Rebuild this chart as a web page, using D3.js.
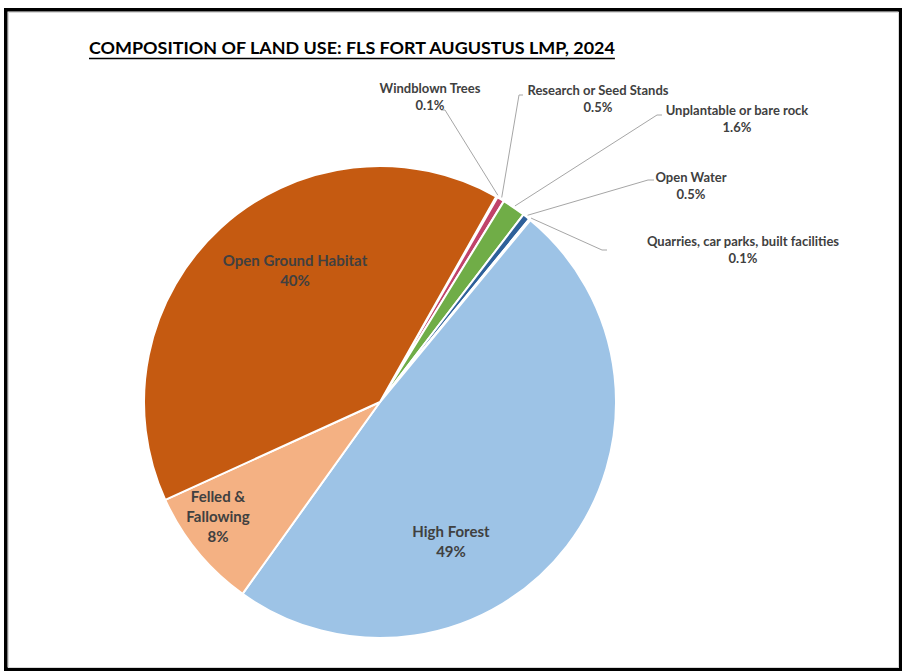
<!DOCTYPE html>
<html>
<head>
<meta charset="utf-8">
<script src="https://cdn.jsdelivr.net/npm/d3@7"></script>
<style>
  html, body { margin: 0; padding: 0; background: #fff; }
  svg { display: block; }
  text { font-family: Lato, "Open Sans", "Liberation Sans", sans-serif; font-weight: bold; }
</style>
</head>
<body>
<svg id="chart" width="903" height="671"></svg>
<script>
// ---- data ----
const categories = [
  "Windblown Trees",
  "Research or Seed Stands",
  "Unplantable or bare rock",
  "Open Water",
  "Quarries, car parks, built facilities",
  "High Forest",
  "Felled & Fallowing",
  "Open Ground Habitat"
];
const values = [0.1, 0.5, 1.6, 0.5, 0.1, 48.9, 8.3, 40.0];
const valueLabels = ["0.1%", "0.5%", "1.6%", "0.5%", "0.1%", "49%", "8%", "40%"];
const colors = ["#C0504D", "#C0436A", "#70AD47", "#2E609A", "#264478", "#9DC3E6", "#F4B183", "#C55A11"];
const titleText = "COMPOSITION OF LAND USE: FLS FORT AUGUSTUS LMP, 2024";

// ---- layout ----
const W = 903, H = 671;
const cx = 380, cy = 402, R = 236;
const startDeg = 29.5;

const svg = d3.select("#chart");

// frame
svg.append("rect").attr("x", 5.75).attr("y", 9.75).attr("width", 894.5).attr("height", 659.5)
  .attr("fill", "#fff").attr("stroke", "#000").attr("stroke-width", 3.5);
svg.append("rect").attr("x", 8.5).attr("y", 12.5).attr("width", 890).attr("height", 655)
  .attr("fill", "none").attr("stroke", "#D9D9D9").attr("stroke-width", 1);

// title
const title = svg.append("text").attr("x", 89).attr("y", 54)
  .attr("fill", "#000").style("font-size", "18px").text(titleText);
(function fit(){
  const target = 526;
  const w = title.node().getComputedTextLength();
  const fs = 18 * target / w;
  title.style("font-size", fs.toFixed(2) + "px");
  const w2 = title.node().getComputedTextLength();
  svg.append("line").attr("x1", 89).attr("x2", 89 + w2).attr("y1", 58.5).attr("y2", 58.5)
    .attr("stroke", "#000").attr("stroke-width", 1.6);
})();

const data = categories.map((c, i) => ({ name: c, value: values[i], label: valueLabels[i], color: colors[i] }));

const toRad = d => d * Math.PI / 180;
const pie = d3.pie().value(d => d.value).sort(null)
  .startAngle(toRad(startDeg)).endAngle(toRad(startDeg + 360));
const arcs = pie(data);

const arc = d3.arc().innerRadius(0).outerRadius(R);

const g = svg.append("g").attr("transform", `translate(${cx},${cy})`);
g.selectAll("path.slice").data(arcs).join("path")
  .attr("class", "slice")
  .attr("d", arc)
  .attr("fill", d => d.data.color)
  .attr("stroke", "#fff").attr("stroke-width", 2).attr("stroke-linejoin", "round");

// inside labels (large slices)
const insideLayout = {
  "High Forest": { x: 451, y: 537, lines: ["High Forest"] },
  "Felled & Fallowing": { x: 218, y: 502, lines: ["Felled &", "Fallowing"] },
  "Open Ground Habitat": { x: 295, y: 266, lines: ["Open Ground Habitat"] }
};
arcs.forEach(a => {
  const L = insideLayout[a.data.name];
  if (!L) return;
  const t = svg.append("text").attr("text-anchor", "middle").attr("fill", "#404040")
    .style("font-size", "15px");
  const lines = L.lines.concat([a.data.label]);
  lines.forEach((s, i) => {
    t.append("tspan").attr("x", L.x).attr("y", L.y + i * 20).text(s);
  });
});

// outside labels with leader lines
const outsideLayout = {
  "Windblown Trees": { x: 430, y: 93, lineEnd: [441, 110], elbow: [445, 110] },
  "Research or Seed Stands": { x: 598, y: 95, lineEnd: [523, 95], elbow: [519, 95] },
  "Unplantable or bare rock": { x: 737, y: 115, lineEnd: [662, 115], elbow: [657, 115] },
  "Open Water": { x: 691, y: 182, lineEnd: [654, 180], elbow: [648, 180] },
  "Quarries, car parks, built facilities": { x: 743, y: 246, lineEnd: [607, 250], elbow: [602, 250] }
};
arcs.forEach(a => {
  const L = outsideLayout[a.data.name];
  if (!L) return;
  const mid = (a.startAngle + a.endAngle) / 2;
  const px = cx + (R + 2) * Math.sin(mid), py = cy - (R + 2) * Math.cos(mid);
  svg.append("path")
    .attr("d", d3.line()([[px, py], L.elbow, L.lineEnd]))
    .attr("fill", "none").attr("stroke", "#A6A6A6").attr("stroke-width", 1);
  const t = svg.append("text").attr("text-anchor", "middle").attr("fill", "#404040")
    .style("font-size", "13px");
  t.append("tspan").attr("x", L.x).attr("y", L.y).text(a.data.name);
  t.append("tspan").attr("x", L.x).attr("y", L.y + 17).text(a.data.label);
});
</script>
</body>
</html>
